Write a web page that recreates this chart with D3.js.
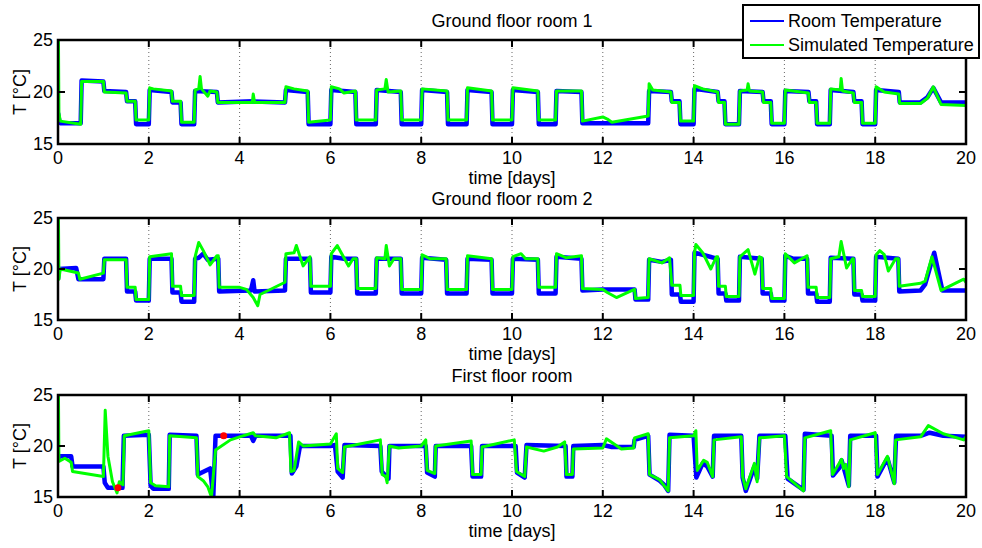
<!DOCTYPE html>
<html>
<head>
<meta charset="utf-8">
<script src="https://cdn.jsdelivr.net/npm/d3@7.9.0/dist/d3.min.js"></script>
<style>
  body { margin: 0; background: #fff; }
  svg text { font-family: "Liberation Sans", Arial, sans-serif; font-size: 18px; fill: #000; }
  .box { fill: none; stroke: #000; stroke-width: 2.5; }
  .grid { stroke: #666; stroke-width: 1; stroke-dasharray: 1,3; }
</style>
</head>
<body>
<svg id="chart" width="982" height="548"></svg>
<script>
const dayTicks = [0, 2, 4, 6, 8, 10, 12, 14, 16, 18, 20];
const tempTicks = [15, 20, 25];
const titles = ["Ground floor room 1", "Ground floor room 2", "First floor room"];
const seriesNames = ["Room Temperature", "Simulated Temperature"];

// [day, °C]
const room1Measured = [[0,18.0],[0.03,17.2],[0.05,17.0],[0.5,17.0],[0.52,21.1],[1.0,21.0],[1.02,20.1],[1.5,20.0],[1.52,19.1],[1.7,19.1],[1.72,16.9],[2.0,16.9],[2.02,20.2],[2.5,20.0],[2.52,19.0],[2.7,19.0],[2.72,16.9],[3.0,16.9],[3.02,20.1],[3.5,20.0],[3.52,19.0],[4.3,19.1],[5.0,19.0],[5.02,20.2],[5.5,20.0],[5.52,16.9],[6.0,16.9],[6.02,20.2],[6.55,20.0],[6.57,16.9],[7.0,16.9],[7.02,20.2],[7.55,20.0],[7.57,16.9],[8.0,16.9],[8.02,20.2],[8.57,20.0],[8.59,16.9],[9.0,16.9],[9.02,20.2],[9.55,20.0],[9.57,16.9],[10.0,16.9],[10.02,20.2],[10.57,20.0],[10.59,16.9],[10.96,16.9],[10.98,20.1],[11.53,20.0],[11.55,17.0],[13.0,17.0],[13.02,20.1],[13.5,20.0],[13.52,19.1],[13.69,19.1],[13.71,16.9],[14.0,16.9],[14.02,20.3],[14.53,20.0],[14.55,19.1],[14.68,19.1],[14.7,16.9],[15.0,16.9],[15.02,20.1],[15.52,20.0],[15.54,19.1],[15.7,19.1],[15.72,16.9],[16.0,16.9],[16.02,20.1],[16.53,20.0],[16.55,19.1],[16.7,19.1],[16.72,16.9],[17.0,16.9],[17.02,20.2],[17.52,20.0],[17.54,19.1],[17.7,19.1],[17.72,16.9],[18.0,16.9],[18.02,20.2],[18.52,20.0],[18.54,19.0],[19.0,19.0],[19.15,19.5],[19.28,20.4],[19.45,19.0],[20.0,19.0]];
const room1Simulated = [[0,25],[0.01,25],[0.02,18],[0.05,17.2],[0.5,16.9],[0.52,21.0],[1.0,21.0],[1.02,20.0],[1.5,19.9],[1.52,19.1],[1.7,19.1],[1.72,17.3],[2.0,17.3],[2.02,20.4],[2.1,20.3],[2.5,20.1],[2.52,19.1],[2.7,19.1],[2.72,17.1],[3.0,17.1],[3.02,20.2],[3.1,20.3],[3.13,21.5],[3.16,20.3],[3.3,19.6],[3.35,20.1],[3.5,20.0],[3.52,19.0],[4.28,19.0],[4.3,19.8],[4.33,19.0],[5.0,19.0],[5.02,20.5],[5.2,20.3],[5.5,20.1],[5.52,17.1],[6.0,17.3],[6.02,20.5],[6.2,20.3],[6.3,19.9],[6.55,20.1],[6.57,17.3],[7.0,17.3],[7.02,20.2],[7.2,20.3],[7.23,21.2],[7.27,20.0],[7.55,20.1],[7.57,17.3],[8.0,17.3],[8.02,20.3],[8.57,20.1],[8.59,17.3],[9.0,17.3],[9.02,20.4],[9.55,20.1],[9.57,17.3],[10.0,17.3],[10.02,20.4],[10.57,20.1],[10.59,17.3],[10.96,17.3],[10.98,20.1],[11.53,20.1],[11.55,17.2],[12.0,17.6],[12.1,17.4],[12.2,17.1],[13.0,17.7],[13.02,20.8],[13.1,20.2],[13.5,20.0],[13.52,19.0],[13.69,19.0],[13.71,17.2],[14.0,17.2],[14.02,20.6],[14.2,20.3],[14.53,20.0],[14.55,19.0],[14.68,19.0],[14.7,16.9],[15.0,16.9],[15.02,20.1],[15.18,20.2],[15.2,20.8],[15.23,20.1],[15.52,20.0],[15.54,19.0],[15.7,19.0],[15.72,17.0],[16.0,17.0],[16.02,20.2],[16.53,19.9],[16.55,19.0],[16.7,19.0],[16.72,17.0],[17.0,17.0],[17.02,20.3],[17.23,20.2],[17.25,21.3],[17.28,20.1],[17.52,19.9],[17.54,19.0],[17.7,19.0],[17.72,17.0],[18.0,17.0],[18.02,20.5],[18.2,20.0],[18.52,19.8],[18.54,18.9],[19.0,18.9],[19.15,19.4],[19.28,20.5],[19.45,18.8],[20.0,18.7]];

const room2Measured = [[0,19.0],[0.02,20.0],[0.4,20.1],[0.45,19.0],[1.0,19.0],[1.02,21.0],[1.5,21.0],[1.52,17.8],[1.7,17.8],[1.72,16.9],[2.0,16.9],[2.02,21.0],[2.5,21.0],[2.52,17.7],[2.7,17.7],[2.72,16.8],[3.0,16.8],[3.02,21.0],[3.1,21.1],[3.2,21.5],[3.3,20.9],[3.53,21.0],[3.55,17.8],[4.25,17.9],[4.3,18.9],[4.33,17.8],[5.0,17.9],[5.02,21.0],[5.55,21.0],[5.57,17.7],[6.0,17.7],[6.02,21.2],[6.3,21.0],[6.57,21.0],[6.59,17.6],[7.0,17.6],[7.02,21.0],[7.55,21.0],[7.57,17.6],[8.0,17.6],[8.02,21.1],[8.55,20.9],[8.57,17.6],[9.0,17.6],[9.02,21.0],[9.55,20.9],[9.57,17.6],[10.0,17.6],[10.02,21.0],[10.57,20.9],[10.59,17.6],[10.96,17.6],[10.98,21.2],[11.53,21.0],[11.55,17.9],[12.0,18.0],[12.7,18.0],[12.72,17.0],[13.0,17.0],[13.02,20.9],[13.3,20.7],[13.5,20.9],[13.52,17.5],[13.7,17.5],[13.72,16.8],[14.0,16.8],[14.02,21.6],[14.2,21.4],[14.53,21.0],[14.55,17.6],[14.7,17.6],[14.72,16.9],[15.0,16.9],[15.02,21.2],[15.5,21.0],[15.52,17.6],[15.7,17.6],[15.72,16.9],[16.0,16.9],[16.02,21.3],[16.2,21.0],[16.5,21.0],[16.52,17.6],[16.7,17.6],[16.72,16.8],[17.0,16.8],[17.02,21.1],[17.52,21.0],[17.54,17.5],[17.7,17.5],[17.72,16.9],[18.0,16.9],[18.02,21.2],[18.51,21.0],[18.53,17.8],[19.0,17.9],[19.1,18.5],[19.3,21.6],[19.48,17.9],[20.0,17.9]];
const room2Simulated = [[0,25],[0.01,25],[0.02,19.0],[0.05,20.0],[0.45,19.6],[0.48,19.0],[1.0,19.6],[1.02,20.9],[1.5,20.9],[1.52,18.2],[1.7,18.2],[1.72,17.0],[2.0,17.0],[2.02,21.2],[2.5,21.5],[2.52,18.3],[2.7,18.3],[2.72,17.4],[3.0,17.4],[3.02,21.2],[3.1,22.6],[3.2,21.8],[3.35,20.4],[3.5,21.3],[3.53,21.3],[3.55,18.2],[4.0,18.2],[4.15,18.0],[4.3,17.2],[4.4,16.4],[4.45,17.5],[5.0,18.7],[5.02,21.5],[5.2,21.6],[5.25,22.3],[5.4,20.3],[5.55,21.2],[5.57,18.3],[6.0,18.3],[6.02,21.5],[6.15,22.3],[6.25,21.5],[6.4,20.3],[6.5,21.0],[6.57,21.0],[6.59,18.1],[7.0,18.1],[7.02,21.1],[7.2,21.0],[7.23,22.3],[7.3,20.3],[7.4,21.0],[7.55,21.0],[7.57,18.0],[8.0,18.0],[8.02,21.4],[8.2,21.0],[8.55,21.0],[8.57,18.0],[9.0,18.0],[9.02,21.3],[9.55,21.0],[9.57,18.0],[10.0,18.0],[10.02,21.2],[10.2,21.5],[10.3,21.0],[10.57,21.0],[10.59,18.2],[10.96,18.2],[10.98,21.5],[11.2,21.1],[11.53,21.3],[11.55,18.1],[12.0,18.0],[12.1,17.7],[12.3,17.2],[12.6,17.8],[12.7,18.0],[12.72,17.1],[13.0,17.2],[13.02,21.0],[13.3,20.6],[13.47,21.1],[13.52,18.4],[13.7,18.4],[13.72,17.4],[14.0,17.4],[14.02,21.6],[14.05,22.4],[14.2,21.6],[14.38,20.0],[14.5,21.2],[14.53,21.2],[14.55,18.3],[14.7,18.3],[14.72,17.3],[15.0,17.3],[15.02,21.2],[15.2,21.9],[15.35,19.5],[15.45,21.2],[15.5,21.1],[15.52,18.1],[15.7,18.1],[15.72,17.1],[16.0,17.1],[16.02,21.5],[16.22,20.6],[16.5,21.3],[16.52,18.2],[16.7,18.2],[16.72,17.2],[17.0,17.2],[17.02,21.0],[17.2,21.2],[17.25,22.7],[17.37,20.1],[17.5,21.0],[17.52,21.0],[17.54,17.9],[17.7,17.9],[17.72,17.3],[18.0,17.3],[18.02,21.4],[18.1,21.8],[18.2,21.4],[18.29,19.8],[18.45,21.0],[18.51,21.0],[18.53,18.3],[19.0,18.6],[19.1,18.8],[19.25,21.2],[19.45,17.9],[19.95,19.0],[20.0,18.7]];

const firstMeasured = [[0,18.5],[0.02,19.0],[0.29,19.0],[0.32,18.0],[1.0,18.0],[1.03,16.4],[1.1,15.9],[1.42,15.9],[1.45,21.0],[2.0,21.1],[2.04,16.1],[2.1,15.8],[2.44,15.8],[2.46,21.1],[3.05,21.0],[3.08,17.2],[3.35,17.8],[3.42,15.0],[3.47,21.0],[4.25,21.0],[4.3,20.5],[4.35,21.0],[5.12,21.0],[5.15,17.3],[5.25,18.0],[5.33,20.0],[6.0,20.0],[6.1,20.1],[6.16,17.5],[6.27,16.9],[6.31,20.1],[7.1,20.0],[7.13,17.5],[7.28,16.8],[7.3,20.0],[8.1,20.0],[8.13,17.4],[8.3,17.0],[8.32,20.0],[9.1,20.0],[9.13,17.0],[9.32,17.0],[9.34,20.0],[10.08,20.0],[10.11,17.4],[10.28,16.9],[10.32,20.1],[11.18,20.0],[11.2,17.0],[11.33,17.0],[11.35,20.0],[12.0,20.1],[12.2,19.9],[12.68,19.9],[12.7,20.6],[13.0,21.0],[13.03,17.2],[13.25,16.6],[13.35,16.2],[13.44,15.6],[13.47,21.1],[14.0,21.0],[14.06,16.9],[14.2,18.3],[14.3,18.0],[14.42,17.0],[14.45,21.0],[15.05,21.0],[15.08,16.9],[15.15,15.6],[15.34,18.0],[15.4,16.8],[15.45,21.0],[16.02,21.0],[16.07,16.8],[16.42,15.7],[16.45,21.2],[17.04,21.0],[17.07,17.1],[17.2,17.8],[17.26,18.6],[17.42,16.1],[17.45,21.0],[18.02,21.0],[18.05,17.0],[18.27,18.8],[18.42,16.4],[18.46,21.0],[19.0,21.0],[19.2,21.3],[19.5,21.0],[20.0,20.9]];
const firstSimulated = [[0,25],[0.01,25],[0.02,18.5],[0.15,18.8],[0.29,18.4],[0.32,17.5],[1.0,17.0],[1.04,23.5],[1.1,19.0],[1.2,16.5],[1.3,15.4],[1.35,16.5],[1.43,16.2],[1.46,21.0],[2.0,21.5],[2.04,16.4],[2.15,16.1],[2.44,16.0],[2.46,21.0],[3.05,20.8],[3.08,17.0],[3.2,16.6],[3.3,16.0],[3.38,15.0],[3.47,19.6],[3.8,20.6],[4.0,20.9],[4.3,21.3],[4.35,21.0],[4.8,20.8],[5.1,21.3],[5.13,17.5],[5.2,17.6],[5.3,20.4],[5.4,20.0],[6.0,20.2],[6.13,21.2],[6.16,17.8],[6.27,17.4],[6.31,19.9],[7.1,20.6],[7.14,17.2],[7.22,17.0],[7.25,16.4],[7.3,20.0],[7.5,19.8],[8.0,20.0],[8.1,20.6],[8.13,17.6],[8.3,17.3],[8.32,20.0],[9.1,20.5],[9.13,17.2],[9.32,17.2],[9.34,19.9],[10.05,20.6],[10.1,17.5],[10.28,17.0],[10.32,19.9],[10.7,19.5],[11.0,19.9],[11.16,20.4],[11.2,17.2],[11.33,17.2],[11.35,19.7],[12.0,19.8],[12.08,20.7],[12.41,19.7],[12.68,19.8],[12.7,20.8],[13.0,21.2],[13.03,17.2],[13.25,16.7],[13.44,15.6],[13.47,20.8],[14.0,21.0],[14.05,21.5],[14.08,17.6],[14.22,18.6],[14.3,18.4],[14.42,17.0],[14.45,20.6],[15.05,20.9],[15.08,17.0],[15.15,15.8],[15.34,18.3],[15.4,16.5],[15.45,20.8],[16.0,21.0],[16.05,17.0],[16.42,15.6],[16.45,20.8],[17.02,21.5],[17.06,17.2],[17.26,18.7],[17.3,17.8],[17.35,18.2],[17.42,16.0],[17.45,20.6],[18.0,21.3],[18.05,17.2],[18.27,19.0],[18.42,16.3],[18.45,20.6],[19.0,20.9],[19.17,22.0],[19.5,21.2],[19.95,20.6],[20.0,20.9]];

const firstMarkers = [[1.32, 15.9], [3.65, 21.0]];

const panels = [
  { title: titles[0], measured: room1Measured, simulated: room1Simulated, markers: [], top: 40, bottom: 144 },
  { title: titles[1], measured: room2Measured, simulated: room2Simulated, markers: [], top: 218, bottom: 320 },
  { title: titles[2], measured: firstMeasured, simulated: firstSimulated, markers: firstMarkers, top: 395, bottom: 497 }
];

const svg = d3.select("#chart");
const x = d3.scaleLinear().domain([0, 20]).range([58, 966]);
const tickLen = 7;

panels.forEach((p, i) => {
  const y = d3.scaleLinear().domain([15, 25]).range([p.bottom, p.top]);
  const g = svg.append("g");

  g.append("clipPath").attr("id", "clip" + i)
    .append("rect")
    .attr("x", x(0)).attr("y", p.top)
    .attr("width", x(20) - x(0)).attr("height", p.bottom - p.top);

  // dotted vertical grid
  g.selectAll(".grid").data(dayTicks.slice(1, -1)).join("line")
    .attr("class", "grid")
    .attr("x1", d => x(d)).attr("x2", d => x(d))
    .attr("y1", p.top).attr("y2", p.bottom);

  const line = d3.line().x(d => x(d[0])).y(d => y(d[1]));
  const plot = g.append("g").attr("clip-path", `url(#clip${i})`);
  plot.append("path").datum(p.measured)
    .attr("d", line).attr("fill", "none")
    .attr("stroke", "#0000ff").attr("stroke-width", 4.5).attr("stroke-linejoin", "round");
  plot.append("path").datum(p.simulated)
    .attr("d", line).attr("fill", "none")
    .attr("stroke", "#00ff00").attr("stroke-width", 3).attr("stroke-linejoin", "round");
  plot.selectAll(".marker").data(p.markers).join("circle")
    .attr("cx", d => x(d[0])).attr("cy", d => y(d[1])).attr("r", 3.5)
    .attr("fill", "#ff0000");

  // ticks, inside the box on all four sides
  g.selectAll(".xtb").data(dayTicks).join("line")
    .attr("x1", d => x(d)).attr("x2", d => x(d))
    .attr("y1", p.bottom).attr("y2", p.bottom - tickLen)
    .attr("stroke", "#000").attr("stroke-width", 2);
  g.selectAll(".xtt").data(dayTicks).join("line")
    .attr("x1", d => x(d)).attr("x2", d => x(d))
    .attr("y1", p.top).attr("y2", p.top + tickLen)
    .attr("stroke", "#000").attr("stroke-width", 2);
  g.selectAll(".ytl").data(tempTicks).join("line")
    .attr("x1", x(0)).attr("x2", x(0) + tickLen)
    .attr("y1", d => y(d)).attr("y2", d => y(d))
    .attr("stroke", "#000").attr("stroke-width", 2);
  g.selectAll(".ytr").data(tempTicks).join("line")
    .attr("x1", x(20)).attr("x2", x(20) - tickLen)
    .attr("y1", d => y(d)).attr("y2", d => y(d))
    .attr("stroke", "#000").attr("stroke-width", 2);

  g.append("rect").attr("class", "box")
    .attr("x", x(0)).attr("y", p.top)
    .attr("width", x(20) - x(0)).attr("height", p.bottom - p.top);

  g.selectAll(".xl").data(dayTicks).join("text")
    .attr("x", d => x(d)).attr("y", p.bottom + 19.5)
    .attr("text-anchor", "middle").text(d => d);
  g.selectAll(".yl").data(tempTicks).join("text")
    .attr("x", x(0) - 5).attr("y", d => y(d)).attr("dy", "0.35em")
    .attr("text-anchor", "end").text(d => d);

  g.append("text").attr("x", (x(0) + x(20)) / 2).attr("y", p.bottom + 40)
    .attr("text-anchor", "middle").text("time [days]");
  g.append("text").attr("x", (x(0) + x(20)) / 2).attr("y", p.top - 13)
    .attr("text-anchor", "middle").text(p.title);
  g.append("text")
    .attr("transform", `translate(26,${(p.top + p.bottom) / 2}) rotate(-90)`)
    .attr("text-anchor", "middle").text("T [°C]");
});

// legend
const legend = svg.append("g");
legend.append("rect")
  .attr("x", 743).attr("y", 5).attr("width", 236).attr("height", 53)
  .attr("fill", "#fff").attr("stroke", "#000").attr("stroke-width", 2);
const legendColors = ["#0000ff", "#00ff00"];
seriesNames.forEach((name, k) => {
  const cy = 21 + k * 24;
  legend.append("line")
    .attr("x1", 750).attr("x2", 784).attr("y1", cy).attr("y2", cy)
    .attr("stroke", legendColors[k]).attr("stroke-width", 2);
  legend.append("text").attr("x", 788).attr("y", cy).attr("dy", "0.35em").text(name);
});
</script>
</body>
</html>
